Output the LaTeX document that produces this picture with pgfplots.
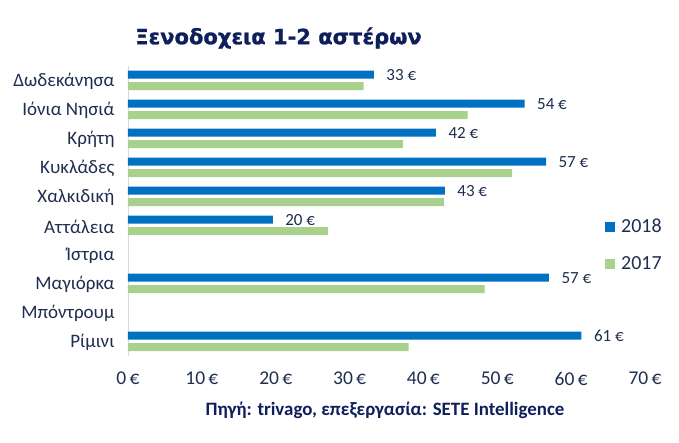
\documentclass[border=0pt]{standalone}
\usepackage{pgfplots}
\pgfplotsset{compat=1.18}
\usepackage{fontspec}
\setmainfont{Carlito}
\newfontfamily\titlefont[BoldFeatures={FakeBold=1.2}]{DejaVu Sans}
\definecolor{bar18}{HTML}{0070C0}
\definecolor{bar17}{HTML}{A9D18E}
\definecolor{navy}{HTML}{0F1F5C}
\definecolor{txt}{HTML}{1F2D4F}
\begin{document}
\begin{tikzpicture}
\useasboundingbox (-128pt,-87pt) rectangle (551pt,356pt);
\begin{axis}[
  at={(0pt,0pt)}, anchor=south west,
  scale only axis, width=517pt, height=290pt,
  xbar, bar width=8pt,
  xmin=0, xmax=70, ymin=-0.5, ymax=9.5,
  axis lines*=left,
  x axis line style={draw=none},
  y axis line style={draw=black!15},
  major tick length=0pt,
  xtick={0,10,...,70},
  xticklabel={\pgfmathprintnumber{\tick}\,€},
  xticklabel style={font=\fontsize{19.5}{19.5}\selectfont, text=txt, yshift=-12.5pt},
  ytick={0,...,9},
  yticklabels={Ρίμινι,Μπόντρουμ,Μαγιόρκα,Ίστρια,Αττάλεια,Χαλκιδική,Κυκλάδες,Κρήτη,Ιόνια Νησιά,Δωδεκάνησα},
  yticklabel style={font=\fontsize{19}{19}\selectfont, text=txt, xshift=-10pt, yshift=-1pt},
  /pgf/number format/assume math mode=true,
  legend style={at={(rel axis cs:0.9226,0.383)}, anchor=west, draw=none, fill=none,
    inner sep=0pt, row sep=18pt, font=\fontsize{20}{20}\selectfont, text=txt},
  legend cell align=left,
  legend image code/.code={\path (0pt,0pt) -- (14pt,0pt);\fill[#1] (0pt,-5pt) rectangle (10pt,5pt);},
]
\addplot[fill=bar18, draw=none, bar shift=5.75pt, point meta=explicit,
  nodes near coords={\pgfmathprintnumber{\pgfplotspointmeta}~€},
  nodes near coords style={font=\fontsize{17}{17}\selectfont, text=txt, anchor=west, xshift=9pt}]
  coordinates {(33.3,9) [33] (53.7,8) [54] (41.7,7) [42] (56.6,6) [57] (42.9,5) [43] (19.6,4) [20] (57.0,2) [57] (61.4,0) [61]};
\addlegendentry{2018}
\addplot[fill=bar17, draw=none, bar shift=-5.75pt]
  coordinates {(31.9,9) (46.0,8) (37.2,7) (52.0,6) (42.8,5) (27.1,4) (48.3,2) (38.0,0)};
\addlegendentry{2017}
\end{axis}
\node[font=\titlefont\bfseries\fontsize{21}{21}\selectfont, text=navy] at (150.5pt,318pt) {Ξενοδοχεια 1-2 αστέρων};
\node[font=\bfseries\fontsize{18.9}{18.9}\selectfont, text=navy] at (257pt,-54pt) {Πηγή: trivago, επεξεργασία: SETE Intelligence};
\end{tikzpicture}
\end{document}
